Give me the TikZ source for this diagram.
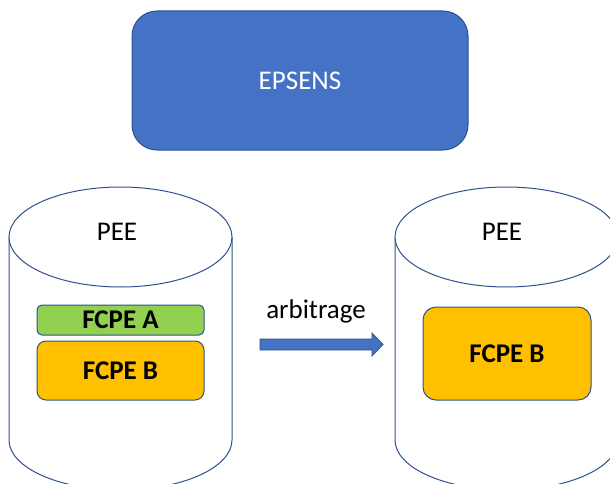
\documentclass[tikz,border=0pt]{standalone}
\usepackage{fontspec}
\setmainfont{Carlito}
\definecolor{accent}{HTML}{4472C4}
\definecolor{edgeblue}{HTML}{2F528F}
\definecolor{fgreen}{HTML}{92D050}
\definecolor{forange}{HTML}{FFC000}
\tikzset{
  cyl/.style={draw=edgeblue, line width=1pt, fill=white},
  fund/.style={draw=edgeblue, line width=1pt, inner sep=0pt, font=\bfseries\fontsize{27}{32}\selectfont},
  lbl/.style={inner sep=0pt, font=\fontsize{27}{32}\selectfont},
  blockarrow/.style={draw=edgeblue, fill=accent, line width=0.75pt, line join=miter},
}
\begin{document}
\begin{tikzpicture}[x=1pt,y=-1pt]
\useasboundingbox (0,0) rectangle (610,484);
\clip (0,0) rectangle (610,484);
% EPSENS
\node[draw=edgeblue, fill=accent, line width=1pt, rounded corners=25pt,
  minimum width=336pt, minimum height=139pt, text=white,
  font=\fontsize{27}{32}\selectfont] (epsens) at (300,80.5) {EPSENS};
% left cylinder
\draw[cyl] (9,237) -- (9,440)
  .. controls (9,467.6) and (58.9,490) .. (120.5,490)
  .. controls (182.1,490) and (232,467.6) .. (232,440) -- (232,237);
\draw[cyl] (120.5,237) ellipse [x radius=111.5, y radius=50];
% right cylinder
\draw[cyl] (395,237) -- (395,440)
  .. controls (395,467.6) and (444.9,490) .. (506.5,490)
  .. controls (568.1,490) and (618,467.6) .. (618,440) -- (618,237);
\draw[cyl] (506.5,237) ellipse [x radius=111.5, y radius=50];
% labels
\node[lbl] (peeL) at (117,232) {PEE};
\node[lbl] (peeR) at (502,232) {PEE};
% funds
\node[fund, fill=fgreen, rounded corners=5pt, minimum width=167pt, minimum height=30pt] (fa) at (120.5,320) {FCPE A};
\node[fund, fill=forange, rounded corners=9pt, minimum width=167pt, minimum height=59pt] (fbL) at (120.5,370.5) {FCPE B};
\node[fund, fill=forange, rounded corners=13pt, minimum width=168pt, minimum height=93pt] (fbR) at (507,353.5) {FCPE B};
% arrow
\coordinate (a1) at (260,339);
\coordinate (a2) at (372,339);
\coordinate (a3) at (372,333);
\coordinate (a4) at (383,344.5);
\coordinate (a5) at (372,356);
\coordinate (a6) at (372,350);
\coordinate (a7) at (260,350);
\draw[blockarrow] (a1) -- (a2) -- (a3) -- (a4) -- (a5) -- (a6) -- (a7) -- cycle;
\node[lbl, anchor=base] (arb) at (316,318) {arbitrage};
\end{tikzpicture}
\end{document}
